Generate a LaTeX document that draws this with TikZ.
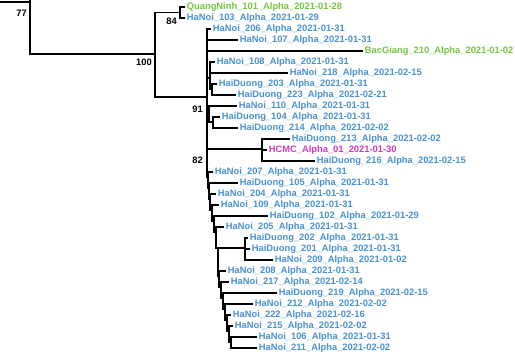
\documentclass[tikz,border=0pt]{standalone}
\usepackage{fontspec}
\setmainfont{Liberation Sans}
\definecolor{lblue}{RGB}{72,145,208}
\definecolor{lgreen}{RGB}{118,196,64}
\definecolor{lmag}{RGB}{208,58,188}
\newcommand\leaffont{\fontsize{7}{8}\selectfont\bfseries}
\newcommand\bsfont{\fontsize{7}{8}\selectfont\bfseries}
\begin{document}
\begin{tikzpicture}[x=0.75pt,y=-0.75pt,
  br/.style={line width=1.35pt, line cap=rect},
  leaf/.style={anchor=west, inner ysep=0pt, inner xsep=2pt, font=\leaffont, text=lblue},
  gleaf/.style={leaf, text=lgreen},
  mleaf/.style={leaf, text=lmag},
  bsv/.style={anchor=east, inner sep=0pt, font=\bsfont, text=black}]
\useasboundingbox (0,0) rectangle (515,354);
% leaves
\node[gleaf] (l1)  at (184,7)   {QuangNinh\_101\_Alpha\_2021-01-28};
\node[leaf]  (l2)  at (184,18)  {HaNoi\_103\_Alpha\_2021-01-29};
\node[leaf]  (l3)  at (210,29)  {HaNoi\_206\_Alpha\_2021-01-31};
\node[leaf]  (l4)  at (237,40)  {HaNoi\_107\_Alpha\_2021-01-31};
\node[gleaf] (l5)  at (362,51)  {BacGiang\_210\_Alpha\_2021-01-02};
\node[leaf]  (l6)  at (214,62)  {HaNoi\_108\_Alpha\_2021-01-31};
\node[leaf]  (l7)  at (287,73)  {HaNoi\_218\_Alpha\_2021-02-15};
\node[leaf]  (l8)  at (216,84)  {HaiDuong\_203\_Alpha\_2021-01-31};
\node[leaf]  (l9)  at (235,95)  {HaiDuong\_223\_Alpha\_2021-02-21};
\node[leaf]  (l10) at (236,106) {HaNoi\_110\_Alpha\_2021-01-31};
\node[leaf]  (l11) at (219,117) {HaiDuong\_104\_Alpha\_2021-01-31};
\node[leaf]  (l12) at (237,128) {HaiDuong\_214\_Alpha\_2021-02-02};
\node[leaf]  (l13) at (289,139) {HaiDuong\_213\_Alpha\_2021-02-02};
\node[mleaf] (l14) at (266,150) {HCMC\_Alpha\_01\_2021-01-30};
\node[leaf]  (l15) at (314,161) {HaiDuong\_216\_Alpha\_2021-02-15};
\node[leaf]  (l16) at (212,172) {HaNoi\_207\_Alpha\_2021-01-31};
\node[leaf]  (l17) at (237,183) {HaiDuong\_105\_Alpha\_2021-01-31};
\node[leaf]  (l18) at (215,194) {HaNoi\_204\_Alpha\_2021-01-31};
\node[leaf]  (l19) at (218,205) {HaNoi\_109\_Alpha\_2021-01-31};
\node[leaf]  (l20) at (267,216) {HaiDuong\_102\_Alpha\_2021-01-29};
\node[leaf]  (l21) at (223,227) {HaNoi\_205\_Alpha\_2021-01-31};
\node[leaf]  (l22) at (247,238) {HaiDuong\_202\_Alpha\_2021-01-31};
\node[leaf]  (l23) at (249,249) {HaiDuong\_201\_Alpha\_2021-01-31};
\node[leaf]  (l24) at (272,260) {HaNoi\_209\_Alpha\_2021-01-02};
\node[leaf]  (l25) at (225,271) {HaNoi\_208\_Alpha\_2021-01-31};
\node[leaf]  (l26) at (228,282) {HaNoi\_217\_Alpha\_2021-02-14};
\node[leaf]  (l27) at (276,293) {HaiDuong\_219\_Alpha\_2021-02-15};
\node[leaf]  (l28) at (252,304) {HaNoi\_212\_Alpha\_2021-02-02};
\node[leaf]  (l29) at (230,315) {HaNoi\_222\_Alpha\_2021-02-16};
\node[leaf]  (l30) at (232,326) {HaNoi\_215\_Alpha\_2021-02-02};
\node[leaf]  (l31) at (256,337) {HaNoi\_106\_Alpha\_2021-01-31};
\node[leaf]  (l32) at (256,348) {HaNoi\_211\_Alpha\_2021-02-02};
% internal nodes
\coordinate (in)   at (0,2);
\coordinate (top)  at (30,0);
\coordinate (r0)   at (30,54);
\coordinate (n100) at (155,54);
\coordinate (n84)  at (180,12.5);
\coordinate (n91)  at (207,97);
\coordinate (nA)   at (210,78);
\coordinate (nA2)  at (212,89);
\coordinate (nB)   at (209,112);
\coordinate (nB2)  at (213,122);
\coordinate (nC)   at (262,149);
\coordinate (c16)  at (208,177);
\coordinate (c17)  at (209,188);
\coordinate (c18)  at (210,199);
\coordinate (c19)  at (212,210);
\coordinate (c20)  at (214,221);
\coordinate (c21)  at (216,232);
\coordinate (c22)  at (218,248);
\coordinate (nE)   at (245,248);
\coordinate (c25)  at (219,276);
\coordinate (c26)  at (221,287);
\coordinate (c27)  at (223,298);
\coordinate (c28)  at (225,309);
\coordinate (c29)  at (227,320);
\coordinate (c30)  at (229,331);
\coordinate (c31)  at (231,342);
% branches
\draw[br] (in) -| (r0);
\draw[br] (top) -- (r0) -- (n100);
\draw[br] (n100) |- (n84);
\draw[br] (n100) |- (n91);
\draw[br] (n84) |- (l1.west);
\draw[br] (n84) |- (l2.west);
\draw[br] (n91) |- (l3.west);
\draw[br] (n91) |- (l4.west);
\draw[br] (n91) |- (l5.west);
\draw[br] (n91) |- (nA);
\draw[br] (nA) |- (l6.west);
\draw[br] (nA) |- (l7.west);
\draw[br] (nA) |- (nA2);
\draw[br] (nA2) |- (l8.west);
\draw[br] (nA2) |- (l9.west);
\draw[br] (n91) |- (nB);
\draw[br] (nB) |- (l10.west);
\draw[br] (nB) |- (nB2);
\draw[br] (nB2) |- (l11.west);
\draw[br] (nB2) |- (l12.west);
\draw[br] (n91) |- (nC);
\draw[br] (nC) |- (l13.west);
\draw[br] (nC) |- (l14.west);
\draw[br] (nC) |- (l15.west);
\draw[br] (n91) |- (c16);
\draw[br] (c16) |- (l16.west);
\draw[br] (c16) |- (c17);
\draw[br] (c17) |- (l17.west);
\draw[br] (c17) |- (c18);
\draw[br] (c18) |- (l18.west);
\draw[br] (c18) |- (c19);
\draw[br] (c19) |- (l19.west);
\draw[br] (c19) |- (c20);
\draw[br] (c20) |- (l20.west);
\draw[br] (c20) |- (c21);
\draw[br] (c21) |- (l21.west);
\draw[br] (c21) |- (c22);
\draw[br] (c22) -- (nE);
\draw[br] (nE) |- (l22.west);
\draw[br] (nE) |- (l23.west);
\draw[br] (nE) |- (l24.west);
\draw[br] (c22) |- (c25);
\draw[br] (c25) |- (l25.west);
\draw[br] (c25) |- (c26);
\draw[br] (c26) |- (l26.west);
\draw[br] (c26) |- (c27);
\draw[br] (c27) |- (l27.west);
\draw[br] (c27) |- (c28);
\draw[br] (c28) |- (l28.west);
\draw[br] (c28) |- (c29);
\draw[br] (c29) |- (l29.west);
\draw[br] (c29) |- (c30);
\draw[br] (c30) |- (l30.west);
\draw[br] (c30) |- (c31);
\draw[br] (c31) |- (l31.west);
\draw[br] (c31) |- (l32.west);
% bootstrap values
\node[bsv] (b77)  at (27,13)   {77};
\node[bsv] (b84)  at (177,21)  {84};
\node[bsv] (b100) at (152,62)  {100};
\node[bsv] (b91)  at (203,109) {91};
\node[bsv] (b82)  at (203,160) {82};
\end{tikzpicture}
\end{document}
